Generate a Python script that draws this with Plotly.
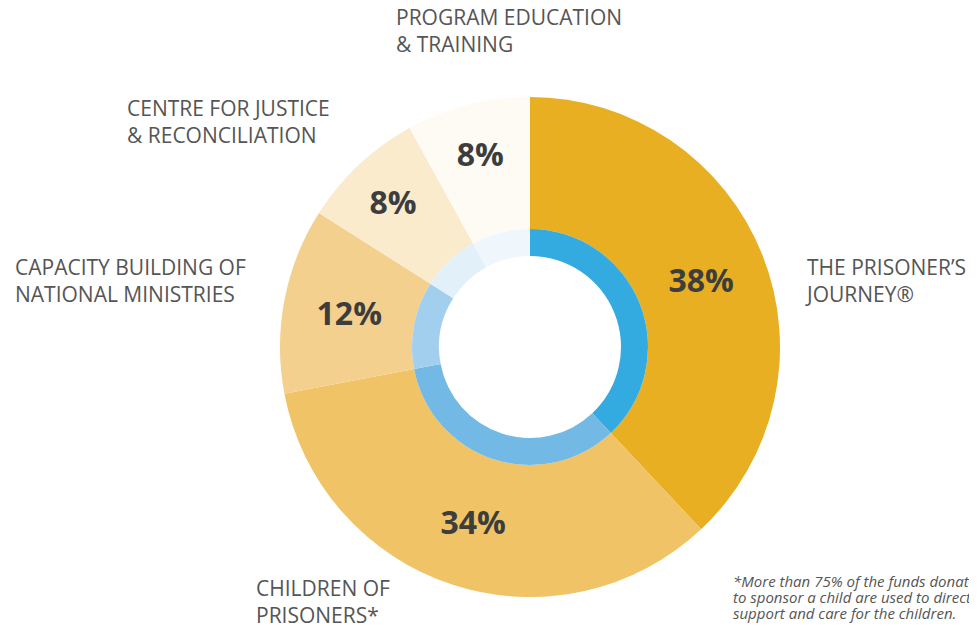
import plotly.graph_objects as go

categories = ["THE PRISONER’S<br>JOURNEY®", "CHILDREN OF<br>PRISONERS*",
              "CAPACITY BUILDING OF<br>NATIONAL MINISTRIES",
              "CENTRE FOR JUSTICE<br>& RECONCILIATION",
              "PROGRAM EDUCATION<br>& TRAINING"]
values = [38, 34, 12, 8, 8]
outer_colors = ["#E9AF22", "#F0C466", "#F4D08E", "#FAEBCD", "#FEFBF4"]
inner_colors = ["#33AAE0", "#73B9E6", "#A3CFEE", "#E2F0FA", "#F0F7FC"]
footnote = ["*More than 75% of the funds donated",
            "to sponsor a child are used to directly",
            "support and care for the children."]

W, H = 977, 626
OFF = 8  # page body margin
cx, cy = 530 - OFF, 347 - OFF
R_out, R_in, R_hole = 250, 118, 91

def dom(r):
    return dict(x=[(cx - r) / W, (cx + r) / W], y=[(H - cy - r) / H, (H - cy + r) / H])

fig = go.Figure()
fig.add_trace(go.Pie(
    values=values, labels=categories, sort=False, direction="clockwise", rotation=0,
    hole=R_in / R_out, domain=dom(R_out),
    marker=dict(colors=outer_colors, line=dict(width=0)),
    texttemplate="%{value}%", textposition="inside", insidetextorientation="horizontal",
    textfont=dict(family="Open Sans", size=32, color="#3d3d3d", weight="bold"),
    hoverinfo="label+value", showlegend=False,
))
fig.add_trace(go.Pie(
    values=values, labels=categories, sort=False, direction="clockwise", rotation=0,
    hole=R_hole / R_in, domain=dom(R_in),
    marker=dict(colors=inner_colors, line=dict(width=0)),
    textinfo="none", hoverinfo="label+value", showlegend=False,
))

label_pos = [(803, 280), (254, 601), (13, 280), (125, 121), (394, 31)]
annotations = []
for text, (x, y) in zip(categories, label_pos):
    annotations.append(dict(
        text=text, x=(x - OFF) / W, y=1 - (y - OFF) / H, xref="paper", yref="paper",
        xanchor="left", yanchor="middle", align="left", showarrow=False,
        font=dict(family="Open Sans", size=21, color="#555555"),
    ))
for i, line in enumerate(footnote):
    annotations.append(dict(
        text="<i>" + line + "</i>", x=(731 - OFF) / W, y=1 - (581 + 16 * i - OFF) / H,
        xref="paper", yref="paper", xanchor="left", yanchor="middle",
        showarrow=False, font=dict(family="Open Sans", size=15, color="#555555"),
    ))

fig.update_layout(
    width=W, height=H, margin=dict(l=0, r=0, t=0, b=0),
    paper_bgcolor="white", plot_bgcolor="white", annotations=annotations,
)
fig.write_html("out.html")
